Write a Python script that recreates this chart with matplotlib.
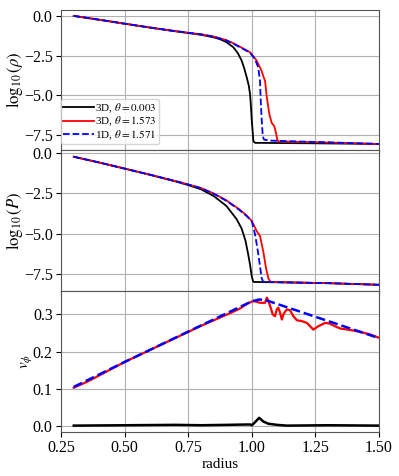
import numpy as np
import matplotlib
matplotlib.use("Agg")
import matplotlib.pyplot as plt

plt.rcParams["font.family"] = ["Liberation Serif", "DejaVu Serif"]
plt.rcParams["mathtext.fontset"] = "stix"
plt.rcParams["axes.unicode_minus"] = True

# --- log10(rho) ---
r_rho_3d_pole = [0.30, 0.40, 0.50, 0.60, 0.70, 0.80, 0.85, 0.875, 0.90, 0.927, 0.945, 0.96,
                 0.97, 0.98, 0.988, 0.993, 0.996, 0.999, 1.006, 1.013, 1.25, 1.50]
rho_3d_pole = [0.0, -0.24, -0.49, -0.74, -0.97, -1.19, -1.35, -1.47, -1.65, -1.97, -2.35, -2.82,
               -3.3, -3.88, -4.4, -4.94, -5.6, -6.42, -7.9, -8.0, -8.03, -8.07]
r_rho_3d_eq = [0.30, 0.40, 0.50, 0.60, 0.70, 0.80, 0.85, 0.90, 0.927, 0.96, 0.993, 1.019,
               1.038, 1.045, 1.052, 1.059, 1.069, 1.078, 1.088, 1.095, 1.100, 1.104, 1.30, 1.50]
rho_3d_eq = [0.0, -0.24, -0.49, -0.73, -0.96, -1.16, -1.30, -1.53, -1.72, -2.0, -2.29, -2.82,
             -3.45, -3.8, -4.1, -5.15, -6.21, -6.74, -6.95, -7.38, -7.80, -7.91, -7.98, -8.07]
r_rho_1d = [0.30, 0.40, 0.50, 0.60, 0.70, 0.80, 0.85, 0.90, 0.927, 0.96, 0.993, 1.012,
            1.025, 1.032, 1.035, 1.039, 1.043, 1.048, 1.072, 1.30, 1.50]
rho_1d = [0.0, -0.24, -0.49, -0.73, -0.96, -1.16, -1.31, -1.55, -1.75, -2.03, -2.32, -2.71,
          -3.24, -4.09, -5.36, -6.64, -7.59, -7.80, -7.86, -7.97, -8.07]

# --- log10(P) ---
r_p_3d_pole = [0.30, 0.40, 0.50, 0.60, 0.70, 0.75, 0.80, 0.85, 0.90, 0.94, 0.96, 0.975,
               0.985, 0.993, 1.000, 1.006, 1.30, 1.50]
p_3d_pole = [-0.21, -0.57, -0.95, -1.34, -1.75, -1.98, -2.24, -2.66, -3.28, -4.1, -4.7, -5.45,
             -6.25, -6.95, -7.71, -8.02, -8.1, -8.2]
r_p_3d_eq = [0.30, 0.40, 0.50, 0.60, 0.70, 0.75, 0.80, 0.85, 0.90, 0.95, 0.98, 1.000, 1.019,
             1.032, 1.045, 1.056, 1.065, 1.074, 1.30, 1.50]
p_3d_eq = [-0.21, -0.57, -0.95, -1.33, -1.73, -1.94, -2.16, -2.50, -2.93, -3.48, -3.88, -4.22,
           -4.85, -5.15, -6.13, -7.18, -7.81, -8.02, -8.1, -8.2]
r_p_1d = [0.30, 0.40, 0.50, 0.60, 0.70, 0.75, 0.80, 0.85, 0.90, 0.95, 0.98, 1.000, 1.013,
          1.026, 1.035, 1.039, 1.045, 1.30, 1.50]
p_1d = [-0.21, -0.57, -0.95, -1.33, -1.73, -1.94, -2.17, -2.52, -2.96, -3.52, -3.92, -4.24,
        -5.08, -6.34, -7.39, -7.81, -8.02, -8.1, -8.2]

# --- v_phi ---
r_v_3d_pole = [0.30, 0.50, 0.70, 0.80, 0.90, 0.98, 0.993, 1.000, 1.015, 1.029, 1.045, 1.065,
               1.10, 1.137, 1.30, 1.50]
v_3d_pole = [0.001, 0.002, 0.003, 0.002, 0.003, 0.004, 0.004, 0.002, 0.012, 0.022, 0.012, 0.006,
             0.003, 0.001, 0.002, 0.001]
r_v_3d_eq = [0.30, 0.35, 0.37, 0.50, 0.80, 0.927, 0.954, 0.98, 1.006, 1.032, 1.052, 1.059,
             1.065, 1.074, 1.082, 1.091, 1.098, 1.104, 1.111, 1.118, 1.124, 1.137, 1.150, 1.163,
             1.177, 1.196, 1.216, 1.229, 1.242, 1.261, 1.288, 1.307, 1.327, 1.347, 1.386, 1.425,
             1.465, 1.50]
v_3d_eq = [0.103, 0.118, 0.125, 0.172, 0.269, 0.307, 0.316, 0.328, 0.336, 0.331, 0.331, 0.345,
           0.336, 0.318, 0.300, 0.295, 0.313, 0.318, 0.304, 0.286, 0.300, 0.313, 0.311, 0.295,
           0.284, 0.282, 0.277, 0.268, 0.259, 0.268, 0.277, 0.275, 0.268, 0.262, 0.258, 0.253,
           0.246, 0.237]
r_v_1d = [0.30, 0.50, 0.80, 1.00, 1.03, 1.06, 1.50]
v_1d = [0.105, 0.172, 0.270, 0.335, 0.340, 0.337, 0.236]

labels = ["3D, $\\theta=0.003$", "3D, $\\theta=1.573$", "1D, $\\theta=1.571$"]

fig, axes = plt.subplots(3, 1, sharex=True, figsize=(3.99, 4.76), dpi=100)
fig.subplots_adjust(left=0.153, right=0.95, top=0.980, bottom=0.0924, hspace=0)

ax = axes[0]
ax.plot(r_rho_3d_pole, rho_3d_pole, color="black", lw=1.3, label=labels[0])
ax.plot(r_rho_3d_eq, rho_3d_eq, color="red", lw=1.3, label=labels[1])
ax.plot(r_rho_1d, rho_1d, color="blue", lw=1.3, ls="--", label=labels[2])
ax.set_ylabel(r"$\log_{10}(\rho)$", fontsize=12, labelpad=-1)
ax.legend(loc="lower left", bbox_to_anchor=(0.0, 0.045), borderaxespad=0, fontsize=8,
          handlelength=2.8, handletextpad=0.1, labelspacing=0.0, borderpad=0.2)

ax = axes[1]
ax.plot(r_p_3d_pole, p_3d_pole, color="black", lw=1.3)
ax.plot(r_p_3d_eq, p_3d_eq, color="red", lw=1.3)
ax.plot(r_p_1d, p_1d, color="blue", lw=1.3, ls="--")
ax.set_ylabel(r"$\log_{10}(P)$", fontsize=12, labelpad=-1)

ax = axes[2]
ax.plot(r_v_3d_pole, v_3d_pole, color="black", lw=1.8)
ax.plot(r_v_3d_eq, v_3d_eq, color="red", lw=1.6)
ax.plot(r_v_1d, v_1d, color="blue", lw=1.8, ls="--")
ax.set_ylabel(r"$v_\phi$", fontsize=11, labelpad=-1)
ax.set_xlabel("radius", fontsize=11, labelpad=1)

for ax in axes[:2]:
    ax.set_yticks([0.0, -2.5, -5.0, -7.5])
axes[2].set_yticks([0.0, 0.1, 0.2, 0.3])
axes[2].set_xlim(0.25, 1.5)
axes[2].set_xticks([0.25, 0.50, 0.75, 1.00, 1.25, 1.50])

for ax in axes:
    ax.grid(True, color="#b0b0b0", lw=0.8)
    ax.tick_params(labelsize=11.5, pad=2.5)
    for s in ax.spines.values():
        s.set_color("#555555")

fig.savefig("out.png", dpi=100)
